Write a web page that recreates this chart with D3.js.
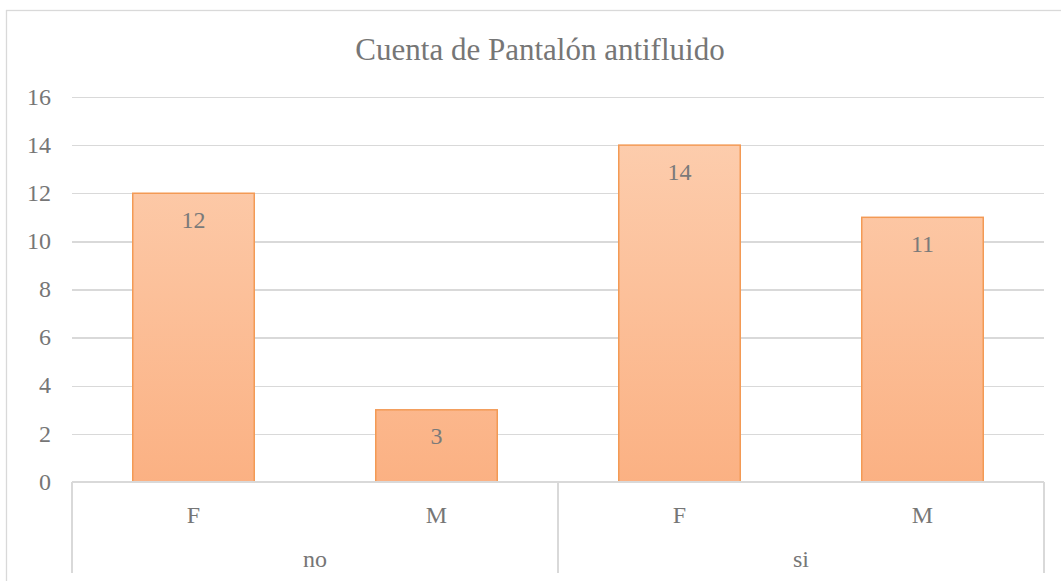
<!DOCTYPE html>
<html lang="es">
<head>
    <meta charset="UTF-8">
    <title>Cuenta de Pantalón antifluido</title>
    <script src="https://d3js.org/d3.v7.min.js"></script>
    <style>
        body { margin: 0; background: #fff; }
        svg { display: block; }
        svg text { font-family: 'Liberation Serif', serif; }
        .gridlines line { stroke: #d9d9d9; stroke-width: 1.3; shape-rendering: crispEdges; }
        .gridlines path { display: none; }
        .yaxis path, .yaxis line { display: none; }
    </style>
</head>
<body>
    <svg id="chart" width="1061" height="581"></svg>

    <script>
        // data
        const groups = ["no", "si"];
        const sexes = ["F", "M"];
        const values = [12, 3, 14, 11];
        const yTicks = [0, 2, 4, 6, 8, 10, 12, 14, 16];
        const title = "Cuenta de Pantalón antifluido";

        const FONT = "'Liberation Serif', serif";
        const TEXT = "#767676";

        const categories = [];
        groups.forEach(g => sexes.forEach(s => categories.push(g + "|" + s)));
        const rows = categories.map((c, i) => ({ key: c, group: c.split("|")[0], sex: c.split("|")[1], value: values[i] }));

        const margin = { top: 97, left: 72, right: 17 };
        const width = 1061;
        const plotBottom = 482;

        const svg = d3.select("#chart");

        // outer chart frame (cropped at right/bottom like the original)
        svg.append("rect")
            .attr("x", 6.5).attr("y", 10.5)
            .attr("width", 1080).attr("height", 600)
            .attr("fill", "none")
            .attr("stroke", "#d9d9d9")
            .attr("stroke-width", 1.3);

        const x = d3.scaleBand()
            .domain(categories)
            .range([margin.left, width - margin.right])
            .paddingInner(0.5)
            .paddingOuter(0.25);

        const xGroup = d3.scaleBand()
            .domain(groups)
            .range([margin.left, width - margin.right]);

        const y = d3.scaleLinear()
            .domain([0, 16])
            .range([plotBottom, margin.top]);

        svg.append("g")
            .attr("class", "gridlines")
            .attr("transform", `translate(${margin.left},0)`)
            .call(d3.axisLeft(y).tickValues(yTicks.slice(1)).tickSize(-(width - margin.right - margin.left)).tickFormat(""));

        svg.append("g")
            .attr("class", "yaxis")
            .attr("transform", `translate(${margin.left - 21},0)`)
            .call(d3.axisLeft(y).tickValues(yTicks).tickSize(0).tickPadding(0))
            .selectAll("text")
            .attr("dy", "0.3em")
            .attr("fill", TEXT)
            .style("font-family", FONT)
            .style("font-size", "24px");

        // gradient for bars
        const defs = svg.append("defs");
        const grad = defs.append("linearGradient")
            .attr("id", "barGrad")
            .attr("gradientUnits", "userSpaceOnUse")
            .attr("x1", 0).attr("x2", 0)
            .attr("y1", y(16)).attr("y2", y(0));
        grad.append("stop").attr("offset", "0%").attr("stop-color", "#fdd0b2");
        grad.append("stop").attr("offset", "100%").attr("stop-color", "#fbb183");

        svg.selectAll("rect.bar")
            .data(rows)
            .enter()
            .append("rect")
            .attr("class", "bar")
            .attr("x", d => x(d.key))
            .attr("y", d => y(d.value))
            .attr("width", x.bandwidth())
            .attr("height", d => y(0) - y(d.value))
            .attr("fill", "url(#barGrad)")
            .attr("stroke", "#f39a55")
            .attr("stroke-width", 1.5);

        svg.selectAll("text.label")
            .data(rows)
            .enter()
            .append("text")
            .attr("class", "label")
            .attr("x", d => x(d.key) + x.bandwidth() / 2)
            .attr("y", d => y(d.value) + 29)
            .attr("text-anchor", "middle")
            .attr("dominant-baseline", "middle")
            .attr("fill", "#7a7a7a")
            .style("font-family", FONT)
            .style("font-size", "24px")
            .text(d => d.value);

        // category axis box
        const axisG = svg.append("g")
            .attr("stroke", "#d9d9d9")
            .attr("stroke-width", 1.3)
            .attr("shape-rendering", "crispEdges");
        axisG.append("line")
            .attr("x1", margin.left).attr("x2", width - margin.right)
            .attr("y1", plotBottom).attr("y2", plotBottom);
        const seps = groups.map(g => xGroup(g)).concat([width - margin.right]);
        axisG.selectAll("line.sep")
            .data(seps)
            .enter()
            .append("line")
            .attr("class", "sep")
            .attr("x1", d => d).attr("x2", d => d)
            .attr("y1", plotBottom).attr("y2", 573);

        svg.selectAll("text.sex")
            .data(rows)
            .enter()
            .append("text")
            .attr("class", "sex")
            .attr("x", d => x(d.key) + x.bandwidth() / 2)
            .attr("y", 517)
            .attr("text-anchor", "middle")
            .attr("dominant-baseline", "middle")
            .attr("fill", TEXT)
            .style("font-family", FONT)
            .style("font-size", "24px")
            .text(d => d.sex);

        svg.selectAll("text.group")
            .data(groups)
            .enter()
            .append("text")
            .attr("class", "group")
            .attr("x", d => xGroup(d) + xGroup.bandwidth() / 2)
            .attr("y", 561)
            .attr("text-anchor", "middle")
            .attr("dominant-baseline", "middle")
            .attr("fill", TEXT)
            .style("font-family", FONT)
            .style("font-size", "24px")
            .text(d => d);

        svg.append("text")
            .attr("x", (margin.left + width - margin.right) / 2 - 18)
            .attr("y", 53)
            .attr("text-anchor", "middle")
            .attr("dominant-baseline", "middle")
            .attr("fill", TEXT)
            .style("font-family", FONT)
            .style("font-size", "31px")
            .text(title);
    </script>
</body>
</html>
